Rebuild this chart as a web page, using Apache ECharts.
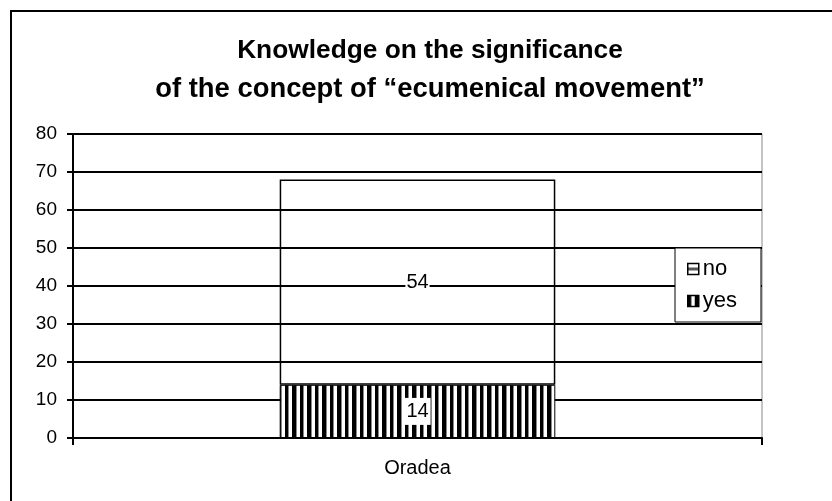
<!DOCTYPE html>
<html>
<head>
<meta charset="utf-8">
<script src="https://cdn.jsdelivr.net/npm/echarts@6/dist/echarts.min.js"></script>
<style>
html,body{margin:0;padding:0;background:#fff;}
#c{width:832px;height:501px;}
</style>
</head>
<body>
<div id="c"></div>
<script>
var categories = ['Oradea'];
var yesValues = [14];
var noValues = [54];
var seriesNames = ['no', 'yes'];
var titleLines = ['Knowledge on the significance', 'of the concept of \u201cecumenical movement\u201d'];

function makeVStripes() {
  var c = document.createElement('canvas');
  c.width = 15; c.height = 4;
  var g = c.getContext('2d');
  g.fillStyle = '#fff'; g.fillRect(0, 0, 15, 4);
  g.fillStyle = '#000';
  g.fillRect(0, 0, 3, 4);
  g.fillRect(7, 0, 4, 4);
  g.fillStyle = '#888';
  g.fillRect(3, 0, 1, 4);
  g.fillRect(11, 0, 1, 4);
  return c;
}
function makeHStripes() {
  var c = document.createElement('canvas');
  c.width = 4; c.height = 12;
  var g = c.getContext('2d');
  g.fillStyle = '#fff'; g.fillRect(0, 0, 4, 12);
  g.fillStyle = '#555';
  g.fillRect(0, 4, 4, 3);
  return c;
}
var vPat = {image: makeVStripes(), repeat: 'repeat'};
var hPat = {image: makeHStripes(), repeat: 'repeat'};

var chart = echarts.init(document.getElementById('c'), null, {renderer: 'canvas'});
chart.setOption({
  animation: false,
  backgroundColor: '#fff',
  title: {
    text: '{a|' + titleLines[0] + '}\n{b|' + titleLines[1] + '}',
    left: 425,
    textAlign: 'center',
    top: 26,
    textStyle: {
      fontFamily: 'Liberation Sans', fontWeight: 'bold', fontSize: 26, lineHeight: 39, color: '#000',
      rich: {
        a: {fontFamily: 'Liberation Sans', fontWeight: 'bold', fontSize: 26.3, lineHeight: 39, color: '#000'},
        b: {fontFamily: 'Liberation Sans', fontWeight: 'bold', fontSize: 27.4, lineHeight: 39, color: '#000'}
      }
    }
  },
  graphic: [{
    type: 'rect', silent: true, z: 100,
    shape: {x: 11, y: 11, width: 900, height: 600},
    style: {fill: null, stroke: '#000', lineWidth: 2}
  }],
  grid: {left: 73, right: 70, top: 134, bottom: 63, show: true, borderColor: '#888', borderWidth: 1, backgroundColor: 'transparent'},
  legend: {
    orient: 'vertical',
    left: 675, top: 248,
    padding: [10, 24, 10, 12],
    itemGap: 10,
    itemWidth: 11, itemHeight: 11,
    backgroundColor: '#fff',
    borderColor: '#000', borderWidth: 1,
    textStyle: {fontFamily: 'Liberation Sans', fontSize: 22, color: '#000', padding: [0, 0, 0, -1]},
    z: 20,
    data: [
      {name: seriesNames[0], icon: 'rect', itemStyle: {color: hPat, borderColor: '#000', borderWidth: 1.5}},
      {name: seriesNames[1], icon: 'rect', itemStyle: {color: vPat, borderColor: '#000', borderWidth: 1.5}}
    ]
  },
  xAxis: {
    type: 'category',
    data: categories,
    boundaryGap: true,
    axisLine: {lineStyle: {color: '#000', width: 2}},
    axisTick: {show: true, length: 7, lineStyle: {color: '#000', width: 2}},
    axisLabel: {fontFamily: 'Liberation Sans', fontSize: 20, color: '#000', margin: 20},
    splitLine: {show: false}
  },
  yAxis: {
    type: 'value',
    min: 0, max: 80, interval: 10,
    axisLine: {show: true, lineStyle: {color: '#000', width: 2}},
    axisTick: {show: true, length: 6, lineStyle: {color: '#000', width: 2}},
    axisLabel: {fontFamily: 'Liberation Sans', fontSize: 19, color: '#000', margin: 16},
    splitLine: {show: true, lineStyle: {color: '#000', width: 2}}
  },
  series: [
    {
      name: seriesNames[1], type: 'bar', stack: 's', barWidth: '40%',
      data: yesValues,
      itemStyle: {color: vPat, borderColor: '#000', borderWidth: 1},
      label: {show: true, position: 'inside', fontFamily: 'Liberation Sans', fontSize: 20, color: '#000', backgroundColor: '#fff', padding: [4, 2, 3, 2]}
    },
    {
      name: seriesNames[0], type: 'bar', stack: 's', barWidth: '40%',
      data: noValues,
      itemStyle: {color: 'rgba(255,255,255,0)', borderColor: '#000', borderWidth: 1.5},
      label: {show: true, position: 'inside', fontFamily: 'Liberation Sans', fontSize: 20, color: '#000', backgroundColor: '#fff', padding: [1, 1, 1, 1]}
    }
  ]
});
</script>
</body>
</html>
